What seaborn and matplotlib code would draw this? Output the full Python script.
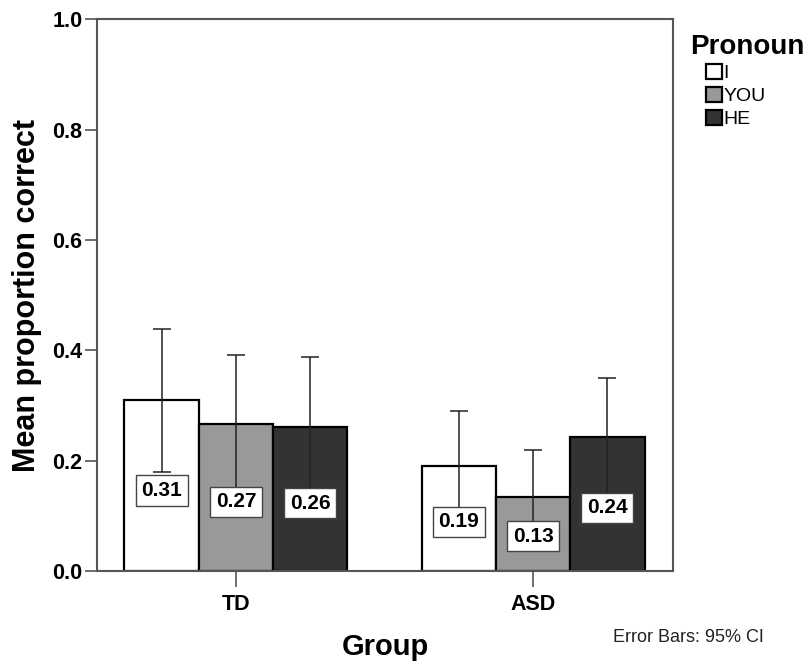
import numpy as np
import matplotlib
matplotlib.use('Agg')
import matplotlib.pyplot as plt
import seaborn as sns
import pandas as pd
from matplotlib.patches import Patch

# Datos
groups = ['TD', 'ASD']
pronouns = ['I', 'YOU', 'HE']
means_i = [0.31, 0.19]
means_you = [0.266, 0.134]
means_he = [0.261, 0.243]
ci_low_i = [0.179, 0.095]
ci_low_you = [0.146, 0.05]
ci_low_he = [0.136, 0.137]
ci_high_i = [0.438, 0.29]
ci_high_you = [0.391, 0.219]
ci_high_he = [0.388, 0.35]
labels_i = ['0.31', '0.19']
labels_you = ['0.27', '0.13']
labels_he = ['0.26', '0.24']
colors = ['#ffffff', '#999999', '#333333']

df = pd.DataFrame({
    'Group': groups * 3,
    'Pronoun': [p for p in pronouns for _ in groups],
    'Mean': means_i + means_you + means_he,
    'Low': ci_low_i + ci_low_you + ci_low_he,
    'High': ci_high_i + ci_high_you + ci_high_he,
    'Label': labels_i + labels_you + labels_he,
})

sns.set_theme(style='ticks')
plt.rcParams['font.family'] = ['Liberation Sans', 'DejaVu Sans']
plt.rcParams['text.color'] = 'black'
plt.rcParams['axes.labelcolor'] = 'black'
plt.rcParams['xtick.labelcolor'] = 'black'
plt.rcParams['ytick.labelcolor'] = 'black'

fig = plt.figure(figsize=(8.07, 6.62), dpi=100)
ax = fig.add_axes([0.120, 0.1375, 0.714, 0.8335])

sns.barplot(data=df, x='Group', y='Mean', hue='Pronoun', order=groups, hue_order=pronouns,
            palette=colors, edgecolor='black', linewidth=1.6, width=0.75,
            errorbar=None, legend=False, saturation=1, ax=ax)

# Barras de error (IC 95%) y etiquetas de valor
bar_conts = list(ax.containers)
for k, cont in enumerate(bar_conts):
    sub = df[df['Pronoun'] == pronouns[k]].set_index('Group').loc[groups]
    for bar, (_, row) in zip(cont, sub.iterrows()):
        xc = bar.get_x() + bar.get_width() / 2
        ax.errorbar(xc, row['Mean'],
                    yerr=[[row['Mean'] - row['Low']], [row['High'] - row['Mean']]],
                    fmt='none', ecolor='#222222', elinewidth=1.1, capsize=6.8,
                    capthick=1.1, zorder=3)
        ax.text(xc, row['Mean'] * 0.47, row['Label'], ha='center', va='center',
                fontsize=15, fontweight='bold', zorder=4,
                bbox=dict(boxstyle='square,pad=0.27', facecolor='white',
                          edgecolor='#444444', linewidth=1))

ax.set_xlim(-0.468, 1.471)
ax.set_ylim(0, 1.0)
ax.set_yticks(np.arange(0, 1.01, 0.2))
ax.set_yticklabels([f'{v:.1f}' for v in np.arange(0, 1.01, 0.2)])

for s in ax.spines.values():
    s.set_visible(True)
    s.set_color('#555555')
    s.set_linewidth(1.5)

ax.tick_params(axis='y', length=8.5, width=1.2, color='#555555', pad=2, labelsize=15.5)
ax.tick_params(axis='x', length=11.5, width=1.2, color='#555555', pad=5, labelsize=15.5)
for t in ax.get_xticklabels() + ax.get_yticklabels():
    t.set_fontweight('bold')

ax.set_ylabel('Mean proportion correct', fontsize=22, fontweight='bold')
ax.set_xlabel('Group', fontsize=21, fontweight='bold')
ax.yaxis.set_label_coords(-0.095, 0.5)
ax.xaxis.set_label_coords(0.5, -0.112)

# Leyenda
fig.text(690 / 807, 1 - 47 / 662, 'Pronoun', fontsize=20, fontweight='bold',
         ha='left', va='center')
handles = [Patch(facecolor=c, edgecolor='black', linewidth=1.6) for c in colors]
fig.legend(handles, pronouns, loc='upper left', bbox_to_anchor=(706 / 807, 1 - 64 / 662),
           frameon=False, fontsize=14, handlelength=0.8, handleheight=0.8,
           handletextpad=0.1, labelspacing=0.25, borderpad=0, borderaxespad=0)

fig.text(613 / 807, 1 - 638 / 662, 'Error Bars: 95% CI', fontsize=13,
         ha='left', va='center', color='#222222')

fig.savefig('out.png', dpi=100)
